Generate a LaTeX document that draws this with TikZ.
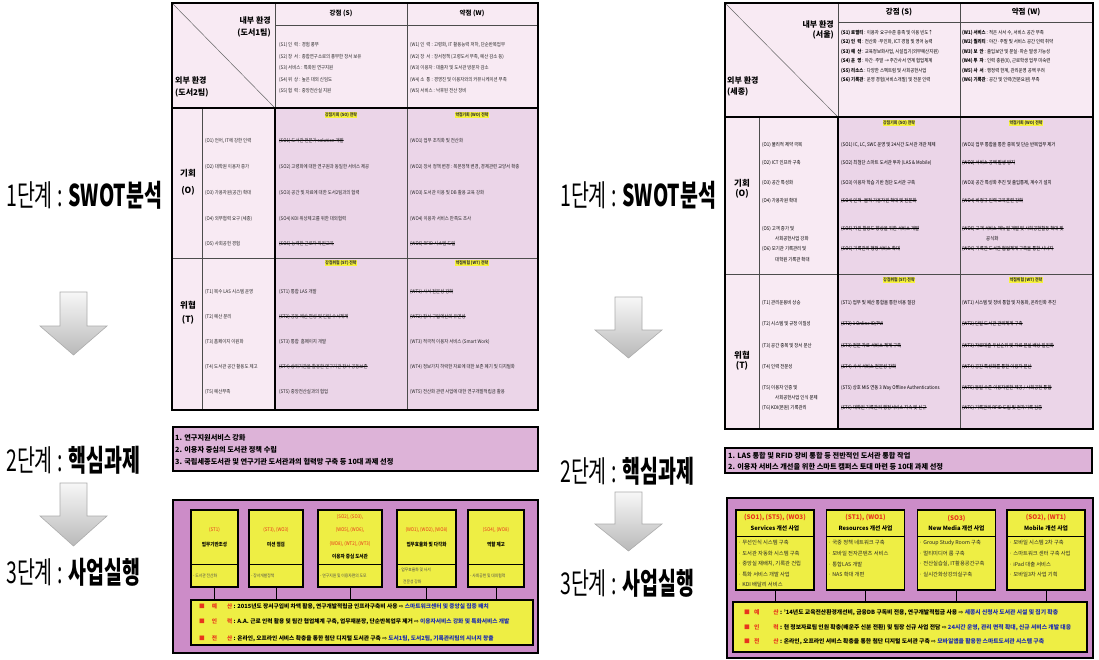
\documentclass[tikz,border=0pt]{standalone}
\usepackage{fontspec}
\setmainfont{Noto Sans CJK KR}
\newfontfamily\bigf{Noto Sans CJK KR}[FakeStretch=0.65]
\newfontfamily\nar{Noto Sans CJK KR}[FakeStretch=0.88]
\newfontfamily\sym{DejaVu Sans}
\definecolor{hdr}{HTML}{F8EAF3}
\definecolor{strat}{HTML}{EBD5E8}
\definecolor{stepb}{HTML}{DDB3D8}
\definecolor{stepc}{HTML}{CC8CC8}
\definecolor{ylw}{HTML}{EEEE44}
\definecolor{rd}{HTML}{E8341C}
\definecolor{bl}{HTML}{1A2AB0}
\definecolor{hl}{HTML}{F6F23A}
\tikzset{
 biglab/.style={anchor=west, inner sep=0pt, font=\bigf\fontsize{30}{32}\selectfont},
 bigarr/.style={draw=gray!65, line width=0.6pt, top color=gray!6, bottom color=gray!55},
 li/.style={anchor=west, inner sep=0pt, text=black!85, font=\nar\fontsize{5}{5.5}\selectfont},
 ri/.style={anchor=west, inner sep=0pt, text=black, font=\nar\fontsize{5}{5.5}\selectfont},
 struck/.style={path picture={\draw[line width=0.35pt] ([yshift=0.5pt]path picture bounding box.west) -- ([yshift=0.5pt]path picture bounding box.east);}},
 shdr/.style={fill=hl, inner sep=0.5pt, text=black!80, font=\nar\fontsize{4.4}{5}\bfseries\selectfont},
 colh/.style={inner sep=0pt, font=\fontsize{6.5}{7}\bfseries\selectfont},
 envl/.style={inner sep=0pt, font=\fontsize{8}{9}\bfseries\selectfont},
 otl/.style={inner sep=0pt, font=\fontsize{8.5}{9}\bfseries\selectfont},
 thinl/.style={draw=black!70, line width=0.5pt},
 thickl/.style={draw=black, line width=1.8pt},
 s2txt/.style={anchor=west, inner sep=0pt, font=\fontsize{7.2}{8}\bfseries\selectfont},
 ybox/.style={draw=black, line width=1.2pt, fill=ylw, inner sep=0pt},
 lcode/.style={inner sep=0pt, text=rd, font=\nar\fontsize{5}{6}\selectfont},
 ltit/.style={inner sep=0pt, font=\nar\fontsize{5.2}{6}\bfseries\selectfont},
 lsub/.style={anchor=west, inner sep=0pt, text=black!70, font=\nar\fontsize{4.3}{5}\selectfont},
 rcode/.style={inner sep=0pt, text=rd, font=\fontsize{6.3}{7}\bfseries\selectfont},
 rtit/.style={inner sep=0pt, font=\fontsize{5.8}{7}\bfseries\selectfont},
 rsub/.style={anchor=west, inner sep=0pt, text=black!85, font=\fontsize{5.3}{6}\selectfont},
 bline/.style={anchor=west, inner sep=0pt, font=\fontsize{5.7}{7}\bfseries\selectfont},
 rbline/.style={anchor=west, inner sep=0pt, font=\fontsize{5.8}{7}\bfseries\selectfont},
}
\begin{document}
\begin{tikzpicture}[x=1pt,y=-1pt]
\useasboundingbox (0,0) rectangle (1099,660);
\fill[white] (0,0) rectangle (1099,660);

% ================= LEFT PANEL =================
\node[biglab] (l1) at (6,195) {1단계 : \textbf{SWOT분석}};
\node[biglab] (l2) at (6,460) {2단계 : \textbf{핵심과제}};
\node[biglab] (l3) at (6,572) {3단계 : \textbf{사업실행}};
\path[bigarr] (60,292) -- (87,292) -- (87,326) -- (107,326) -- (73.5,355) -- (40,326) -- (60,326) -- cycle;
\path[bigarr] (60,483) -- (87,483) -- (87,516) -- (107,516) -- (73.5,546) -- (40,516) -- (60,516) -- cycle;

% table
\fill[hdr] (172,3) rectangle (538,410);
\fill[strat] (275,108) rectangle (538,410);
\draw[thinl] (202,108) -- (202,410);
\draw[thinl] (275,3) -- (275,108);
\draw[thinl] (407,3) -- (407,410);
\draw[thinl] (275,25) -- (538,25);
\draw[thinl] (172,258) -- (538,258);
\draw[draw=black!60, line width=0.5pt] (172,3) -- (275,108);
\draw[line width=1.5pt] (275,108) rectangle (538,410);
\draw[line width=1.5pt] (172,108) -- (275,108);
\draw[thickl] (172,3) rectangle (538,410);

\node[colh] (lsh) at (341,13) {강점 (S)};
\node[colh] (lwh) at (472,13) {약점 (W)};
\node[envl, anchor=east] (lin1) at (271,20) {내부 환경};
\node[envl, anchor=east] (lin2) at (271,33) {(도서1팀)};
\node[envl, anchor=west] (lex1) at (175,80) {외부 환경};
\node[envl, anchor=west] (lex2) at (175,93) {(도서2팀)};

\node[li] (ls1) at (279,45) {(S1) 인\ \ 력 : 경험 풍부};
\node[li] (ls2) at (279,56.5) {(S2) 장\ \ 서 : 종합연구소로의 풍부한 장서 보유};
\node[li] (ls3) at (279,68) {(S3) 서비스 : 특화된 연구지원};
\node[li] (ls4) at (279,79.5) {(S4) 위\ \ 상 : 높은 대외 신임도};
\node[li] (ls5) at (279,91) {(S5) 협\ \ 력 : 중앙전산실 지원};
\node[li] (lw1) at (410,45) {(W1) 인\ \ 력 : 고령화, IT 활용능력 저하, 단순반복업무};
\node[li] (lw2) at (410,56.5) {(W2) 장\ \ 서 : 장서정책 (고령도서 부족, 예산 감소 등)};
\node[li] (lw3) at (410,68) {(W3) 이용자 : 대출자 및 도서관 방문자 감소};
\node[li] (lw4) at (410,79.5) {(W4) 소\ \ 통 : 경영진 및 이용자와의 커뮤니케이션 부족};
\node[li] (lw5) at (410,91) {(W5) 서비스 : 낙후된 전산 장비};

\node[shdr] (lsoh) at (341,115) {강점기회 (SO) 전략};
\node[shdr] (lwoh) at (472,115) {약점기회 (WO) 전략};
\node[otl] (lo1) at (188,173) {기회};
\node[otl] (lo2) at (188,191) {(O)};
\node[li] (lo_1) at (205,141) {(O1) 언어, IT에 강한 인력};
\node[li] (lo_2) at (205,167) {(O2) 대학원 이용자 증가};
\node[li] (lo_3) at (205,193) {(O3) 가용자원(공간) 확대};
\node[li] (lo_4) at (205,219) {(O4) 외부협력 요구 (세종)};
\node[li] (lo_5) at (205,244) {(O5) 사회공헌 경험};
\node[li,struck] (lso1) at (279,141) {(SO1) 도서관 전문가 solution 개발};
\node[li] (lso2) at (279,167) {(SO2) 고령화에 대한 연구원과 동일한 서비스 제공};
\node[li] (lso3) at (279,193) {(SO3) 공간 및 자료에 대한 도서2팀과의 협력};
\node[li] (lso4) at (279,219) {(SO4) KDI 위상제고를 위한 대외협력};
\node[li,struck] (lso5) at (279,244) {(SO5) 능력한 근로자 직원교육};
\node[li] (lwo1) at (410,141) {(WO1) 업무 조직화 및 전산화};
\node[li] (lwo2) at (410,167) {(WO2) 장서 정책 변경 : 복본정책 변경, 경제관련 교양서 확충};
\node[li] (lwo3) at (410,193) {(WO3) 도서관 이용 및 DB 활용 교육 강화};
\node[li] (lwo4) at (410,219) {(WO4) 이용자 서비스 만족도 조사};
\node[li,struck] (lwo5) at (410,244) {(WO5) RFID 시스템 도입};

\node[shdr] (lsth) at (341,263) {강점위협 (ST) 전략};
\node[shdr] (lwth) at (472,263) {약점위협 (WT) 전략};
\node[otl] (lt1) at (188,305) {위협};
\node[otl] (lt2) at (188,320) {(T)};
\node[li] (lt_1) at (205,292) {(T1) 복수 LAS 시스템 운영};
\node[li] (lt_2) at (205,317) {(T2) 예산 분리};
\node[li] (lt_3) at (205,342) {(T3) 홈페이지 이원화};
\node[li] (lt_4) at (205,367) {(T4) 도서관 공간 활용도 제고};
\node[li] (lt_5) at (205,392) {(T5) 예산부족};
\node[li] (lst1) at (279,292) {(ST1) 통합 LAS 개발};
\node[li,struck] (lst2) at (279,317) {(ST2) 공동 예산 편성 및 단일 수서체계};
\node[li] (lst3) at (279,342) {(ST3) 통합\ \ 홈페이지 개발};
\node[li,struck] (lst4) at (279,367) {(ST4) 상위기관을 활용한 연구기관 장서 공동보존};
\node[li] (lst5) at (279,392) {(ST5) 중앙전산실과의 협업};
\node[li,struck] (lwt1) at (410,292) {(WT1) 사서 전문성 강화};
\node[li,struck] (lwt2) at (410,317) {(WT2) 장서 구입예산의 유연성};
\node[li] (lwt3) at (410,342) {(WT3) 적극적 이용자 서비스 (Smart Work)};
\node[li] (lwt4) at (410,367) {(WT4) 정보가치 하락한 자료에 대한 보존 폐기 및 디지털화};
\node[li] (lwt5) at (410,392) {(WT5) 전산화 관련 사업에 대한 연구개발적립금 활용};

% step 2 left
\node[draw=black, line width=1.5pt, fill=stepb, minimum width=365pt, minimum height=44pt, inner sep=0pt] (lk) at (355.5,449) {};
\node[s2txt] (lk1) at (175,438) {1. 연구지원서비스 강화};
\node[s2txt] (lk2) at (175,450) {2. 이용자 중심의 도서관 정책 수립};
\node[s2txt] (lk3) at (175,462) {3. 국립세종도서관 및 연구기관 도서관과의 협력망 구축 등 10대 과제 선정};

% step 3 left
\node[draw=black, line width=1.5pt, fill=stepc, minimum width=365pt, minimum height=153pt, inner sep=0pt] (lp) at (355.5,576.5) {};
\node[ybox, minimum width=342pt, minimum height=45pt] (lbot) at (362,622.5) {};
\foreach \n/\cx/\w in {lb1/214.5/47, lb2/276/54, lb3/350/64, lb4/426.5/59, lb5/496/56}{
  \node[ybox, minimum width=\w pt, minimum height=77pt] (\n) at (\cx,548.5) {};
  \draw[line width=0.5pt] (\n.west |- 0,564) -- (\n.east |- 0,564);
  \draw[line width=0.6pt] (\n.south) -- (\n.south |- lbot.north);
}
\node[lcode] (lb1c) at (214.5,530) {(ST1)};
\node[ltit] (lb1t) at (214.5,545) {업무기반조성};
\node[lsub] (lb1s) at (193,576) {- 도서관 전산화};
\node[lcode] (lb2c) at (276,530) {(ST3), (WO3)};
\node[ltit] (lb2t) at (276,545) {미션 점검};
\node[lsub] (lb2s) at (251,576) {- 장서개발정책};
\node[lcode] (lb3c1) at (350,517) {(SO2), (SO3),};
\node[lcode] (lb3c2) at (350,530) {(WO5), (WO6),};
\node[lcode] (lb3c3) at (350,544) {(WO8), (WT2), (WT3)};
\node[ltit] (lb3t) at (350,557) {이용자 중심 도서관};
\node[lsub] (lb3s) at (320,576) {- 연구지원 및 이용자편의 도모};
\node[lcode] (lb4c) at (426.5,530) {(WO1), (WO2), (WO8)};
\node[ltit] (lb4t) at (426.5,545) {업무효율화 및 다각화};
\node[lsub] (lb4s1) at (399,570) {- 업무효율화 및 사서};
\node[lsub] (lb4s2) at (403,582) {전문성 강화};
\node[lcode] (lb5c) at (496,530) {(SO4), (WO8)};
\node[ltit] (lb5t) at (496,545) {역할 제고};
\node[lsub] (lb5s) at (470,576) {- 사회공헌 및 대외협력};

\node[bline] (lbl1) at (199,607) {\textcolor{rd}{■\hspace{7pt}예\hspace{10pt}산} : 2015년도 장서구입비 차액 활용, 연구개발적립금 인프라구축비 사용 {\sym⇨} \textcolor{bl}{스마트워크센터 및 중앙실 집중 배치}};
\node[bline] (lbl2) at (199,622) {\textcolor{rd}{■\hspace{7pt}인\hspace{10pt}력} : A.A. 근로 인력 활용 및 팀간 협업체계 구축, 업무재분장, 단순반복업무 제거 {\sym⇨} \textcolor{bl}{이용자서비스 강화 및 특화서비스 개발}};
\node[bline] (lbl3) at (199,639) {\textcolor{rd}{■\hspace{7pt}전\hspace{10pt}산} : 온라인, 오프라인 서비스 확충을 통한 첨단 디지털 도서관 구축 {\sym⇨} \textcolor{bl}{도서1팀, 도서2팀, 기록관리팀의 시너지 창출}};

% ================= RIGHT PANEL =================
\node[biglab] (r1) at (560,195) {1단계 : \textbf{SWOT분석}};
\node[biglab] (r2) at (560,471) {2단계 : \textbf{핵심과제}};
\node[biglab] (r3) at (560,583) {3단계 : \textbf{사업실행}};
\path[bigarr] (615,297) -- (642,297) -- (642,330) -- (662,330) -- (628.5,358) -- (595,330) -- (615,330) -- cycle;
\path[bigarr] (615,492) -- (642,492) -- (642,524) -- (662,524) -- (628.5,551) -- (595,524) -- (615,524) -- cycle;

\fill[hdr] (725,3) rectangle (1093,429);
\fill[strat] (838,117) rectangle (1093,429);
\draw[thinl] (759,117) -- (759,429);
\draw[thinl] (838,3) -- (838,117);
\draw[thinl] (960,3) -- (960,429);
\draw[thinl] (838,22) -- (1093,22);
\draw[thinl] (725,274) -- (1093,274);
\draw[draw=black!60, line width=0.5pt] (725,3) -- (838,117);
\draw[line width=1.5pt] (838,117) rectangle (1093,429);
\draw[line width=1.5pt] (725,117) -- (838,117);
\draw[thickl] (725,3) rectangle (1093,429);

\node[colh, font=\fontsize{7.5}{8}\bfseries\selectfont] (rsh) at (899,12) {강점 (S)};
\node[colh, font=\fontsize{7.5}{8}\bfseries\selectfont] (rwh) at (1026,12) {약점 (W)};
\node[envl, anchor=east] (rin1) at (834,24) {내부 환경};
\node[envl, anchor=east] (rin2) at (834,35) {(서울)};
\node[envl, anchor=west] (rex1) at (727,80) {외부 환경};
\node[envl, anchor=west] (rex2) at (727,92) {(세종)};

\node[ri] (rs1) at (841,33) {\textbf{(S1) 로열티} : 이용자 요구수준 충족 및 이용 빈도↑};
\node[ri] (rs2) at (841,42.4) {\textbf{(S2) 인\ \ 력} : 전산화·무인화, ICT 경험 및 영어 능력};
\node[ri] (rs3) at (841,51.8) {\textbf{(S3) 예\ \ 산} : 교육정보화사업, 시설집기(외부예산지원)};
\node[ri] (rs4) at (841,61.2) {\textbf{(S4) 운\ \ 영} : 야간·주말 → 주간사서 연계 협업체계};
\node[ri] (rs5) at (841,70.6) {\textbf{(S5) 리소스} : 다양한 스펙트럼 및 사회공헌사업};
\node[ri] (rs6) at (841,80) {\textbf{(S6) 기록관} : 운영 경험(서비스개발) 및 전문 인력};
\node[ri] (rw1) at (962,33) {\textbf{(W1) 서비스} : 적은 사서 수, 서비스 공간 부족};
\node[ri] (rw2) at (962,42.4) {\textbf{(W2) 퀄리티} : 야간·주말 및 서비스 공간 인력 취약};
\node[ri] (rw3) at (962,51.8) {\textbf{(W3) 보\ \ 안} : 출입보안 및 분실·파손 발생 가능성};
\node[ri] (rw4) at (962,61.2) {\textbf{(W4) 투\ \ 자} : 인력 충원(X), 근로학생 업무 미숙련};
\node[ri] (rw5) at (962,70.6) {\textbf{(W5) 사\ \ 서} : 행정력 한계, 관리운영 공백 우려};
\node[ri] (rw6) at (962,80) {\textbf{(W6) 기록관} : 공간 및 인력(전문요원) 부족};

\node[shdr] (rsoh) at (899,123) {강점기회 (SO) 전략};
\node[shdr] (rwoh) at (1026,123) {약점기회 (WO) 전략};
\node[otl] (ro1) at (742,183) {기회};
\node[otl] (ro2) at (742,194) {(O)};
\node[ri] (ro_1) at (762,145) {(O1) 물리적 제약 극복};
\node[ri] (ro_2) at (762,163) {(O2) ICT 인프라 구축};
\node[ri] (ro_3) at (762,183) {(O3) 공간 특성화};
\node[ri] (ro_4) at (762,201) {(O4) 가용자원 확대};
\node[ri] (ro_5) at (762,229) {(O5) 고객 증가 및};
\node[ri] (ro_5b) at (775,239) {사회공헌사업 강화};
\node[ri] (ro_6) at (762,249) {(O6) 모기관 기록관리 및};
\node[ri] (ro_6b) at (775,260) {대학원 기록관 확대};
\node[ri] (rso1) at (841,145) {(SO1) IC, LC, SWC 운영 및 24시간 도서관 개관 체제};
\node[ri] (rso2) at (841,163) {(SO2) 최첨단 스마트 도서관 투자 (LAS \& Mobile)};
\node[ri] (rso3) at (841,183) {(SO3) 이용자 학습 기반 첨단 도서관 구축};
\node[ri,struck] (rso4) at (841,201) {(SO4) 인적·물적 가용자원 확대 및 전문화};
\node[ri,struck] (rso5) at (841,229) {(SO5) 자원 활용도 향상을 위한 서비스 개발};
\node[ri,struck] (rso6) at (841,249) {(SO6) 기록관리 행정서비스 확대};
\node[ri] (rwo1) at (962,145) {(WO1) 업무 통합을 통한 중복 및 단순 반복업무 제거};
\node[ri,struck] (rwo2) at (962,163) {(WO2) 서비스 공백 발생 방지};
\node[ri] (rwo3) at (962,183) {(WO3) 공간 특성화 추진 및 출입통제, 계수기 설치};
\node[ri,struck] (rwo4) at (962,201) {(WO4) 비정규 인력 교육훈련 강화};
\node[ri,struck] (rwo5) at (962,229) {(WO5) 고객 서비스 매뉴얼 개발 및 사회공헌활동 확대 및};
\node[ri] (rwo5b) at (986,239) {공식화};
\node[ri,struck] (rwo6) at (962,249) {(WO6) 기록관 도서관 협업체계 구축을 통한 시너지};

\node[shdr] (rsth) at (899,280) {강점위협 (ST) 전략};
\node[shdr] (rwth) at (1026,280) {약점위협 (WT) 전략};
\node[otl] (rt1) at (742,355) {위협};
\node[otl] (rt2) at (742,366) {(T)};
\node[ri] (rt_1) at (762,303) {(T1) 관리운용비 상승};
\node[ri] (rt_2) at (762,324) {(T2) 시스템 및 규정 이질성};
\node[ri] (rt_3) at (762,346) {(T3) 공간 중복 및 장서 분산};
\node[ri] (rt_4) at (762,367) {(T4) 인력 전문성};
\node[ri] (rt_5) at (762,388) {(T5) 이용자 인증 및};
\node[ri] (rt_5b) at (775,398) {사회공헌사업 인식 문제};
\node[ri] (rt_6) at (762,408) {(T6) KDI(본원) 기록관리};
\node[ri] (rst1) at (841,303) {(ST1) 업무 및 예산 통합을 통한 비용 절감};
\node[ri,struck] (rst2) at (841,324) {(ST2) 1 Online ID/PW};
\node[ri,struck] (rst3) at (841,346) {(ST3) 전문 자료 서비스 체계 구축};
\node[ri,struck] (rst4) at (841,367) {(ST4) 사서 서비스 전문성 강화};
\node[ri] (rst5) at (841,388) {(ST5) 상호 MIS 연동 3 Way Offline Authentications};
\node[ri,struck] (rst6) at (841,408) {(ST6) 대학원 기록관리 행정서비스 지속 및 신규};
\node[ri] (rwt1) at (962,303) {(WT1) 시스템 및 장비 통합 및 자동화, 온라인화 추진};
\node[ri,struck] (rwt2) at (962,324) {(WT2) 단일 도서관 관리체계 구축};
\node[ri,struck] (rwt3) at (962,346) {(WT3) 자료대출 우선순위 및 자료 분실 배상 일원화};
\node[ri,struck] (rwt4) at (962,367) {(WT4) 공간 특성화를 통한 이용자 분산};
\node[ri,struck] (rwt5) at (962,388) {(WT5) 동일 수준 이용자권한 제공 / 사회공헌 통합};
\node[ri,struck] (rwt6) at (962,408) {(WT6) 기록관리 RFID 도입 및 전자기록 검증};

% step 2 right
\node[draw=black, line width=1.5pt, fill=stepb, minimum width=367pt, minimum height=25pt, inner sep=0pt] (rk) at (908.5,460.5) {};
\node[s2txt] (rk1) at (728,456) {1. LAS 통합 및 RFID 장비 통합 등 전반적인 도서관 통합 작업};
\node[s2txt] (rk2) at (728,467) {2. 이용자 서비스 개선을 위한 스마트 캠퍼스 토대 마련 등 10대 과제 선정};

% step 3 right
\node[draw=black, line width=1.5pt, fill=stepc, minimum width=366pt, minimum height=160pt, inner sep=0pt] (rp) at (910,578) {};
\node[ybox, minimum width=354pt, minimum height=50pt] (rbot) at (910,627) {};
\foreach \n/\cx in {rb1/775, rb2/865.5, rb3/956.5, rb4/1046}{
  \node[ybox, minimum width=78pt, minimum height=80pt] (\n) at (\cx,550) {};
  \draw[line width=0.5pt] (\n.west |- 0,536) -- (\n.east |- 0,536);
  \draw[line width=0.8pt] (\n.south) -- (\n.south |- rbot.north);
}
\node[rcode] (rb1c) at (775,518) {(SO1), (ST5), (WO3)};
\node[rtit] (rb1t) at (775,528) {Services 개선 사업};
\node[rsub] (rb1s1) at (738,543) {· 무선인식 시스템 구축};
\node[rsub] (rb1s2) at (738,553.5) {· 도서관 자동화 시스템 구축};
\node[rsub] (rb1s3) at (738,564) {· 중앙실 재배치, 기록관 건립};
\node[rsub] (rb1s4) at (738,574.5) {· 특화 서비스 개발 사업};
\node[rsub] (rb1s5) at (738,585) {· KDI 배달리 서비스};
\node[rcode] (rb2c) at (865.5,518) {(ST1), (WO1)};
\node[rtit] (rb2t) at (865.5,528) {Resources 개선 사업};
\node[rsub] (rb2s1) at (828,543) {· 국중 정책 네트워크 구축};
\node[rsub] (rb2s2) at (828,553.5) {· 모바일 전자콘텐츠 서비스};
\node[rsub] (rb2s3) at (828,564) {· 통합LAS 개발};
\node[rsub] (rb2s4) at (828,574.5) {· NAS 확대 개편};
\node[rcode] (rb3c) at (956.5,518) {(SO3)};
\node[rtit] (rb3t) at (956.5,528) {New Media 개선 사업};
\node[rsub] (rb3s1) at (919,543) {· Group Study Room 구축};
\node[rsub] (rb3s2) at (919,553.5) {· 멀티미디어 룸 구축};
\node[rsub] (rb3s3) at (919,564) {· 전산실습실, IT활용공간구축};
\node[rsub] (rb3s4) at (919,574.5) {· 실시간화상강의실구축};
\node[rcode] (rb4c) at (1046,518) {(SO2), (WT1)};
\node[rtit] (rb4t) at (1046,528) {Mobile 개선 사업};
\node[rsub] (rb4s1) at (1009,543) {· 모바일 시스템 2차 구축};
\node[rsub] (rb4s2) at (1009,553.5) {· 스마트워크 센터 구축 사업};
\node[rsub] (rb4s3) at (1009,564) {· iPad 대출 서비스};
\node[rsub] (rb4s4) at (1009,574.5) {· 모바일3차 사업 기획};

\node[rbline] (rbl1) at (744,613) {\textcolor{rd}{■\hspace{4pt}예\hspace{14pt}산} : '14년도 교육전산환경개선비, 금융DB 구독비 전용, 연구개발적립금 사용 {\sym⇨} \textcolor{bl}{세종시 신청사 도서관 시설 및 집기 확충}};
\node[rbline] (rbl2) at (744,628) {\textcolor{rd}{■\hspace{4pt}인\hspace{14pt}력} : 현 정보자료팀 인원 확충(배운주 신분 전환) 및 팀장 신규 사업 전담 {\sym⇨} \textcolor{bl}{24시간 운영, 관리 면적 확대, 신규 서비스 개발 대응}};
\node[rbline] (rbl3) at (744,642) {\textcolor{rd}{■\hspace{4pt}전\hspace{14pt}산} : 온라인, 오프라인 서비스 확충을 통한 첨단 디지털 도서관 구축 {\sym⇨} \textcolor{bl}{모바일앱을 활용한 스마트도서관 시스템 구축}};
\end{tikzpicture}
\end{document}
